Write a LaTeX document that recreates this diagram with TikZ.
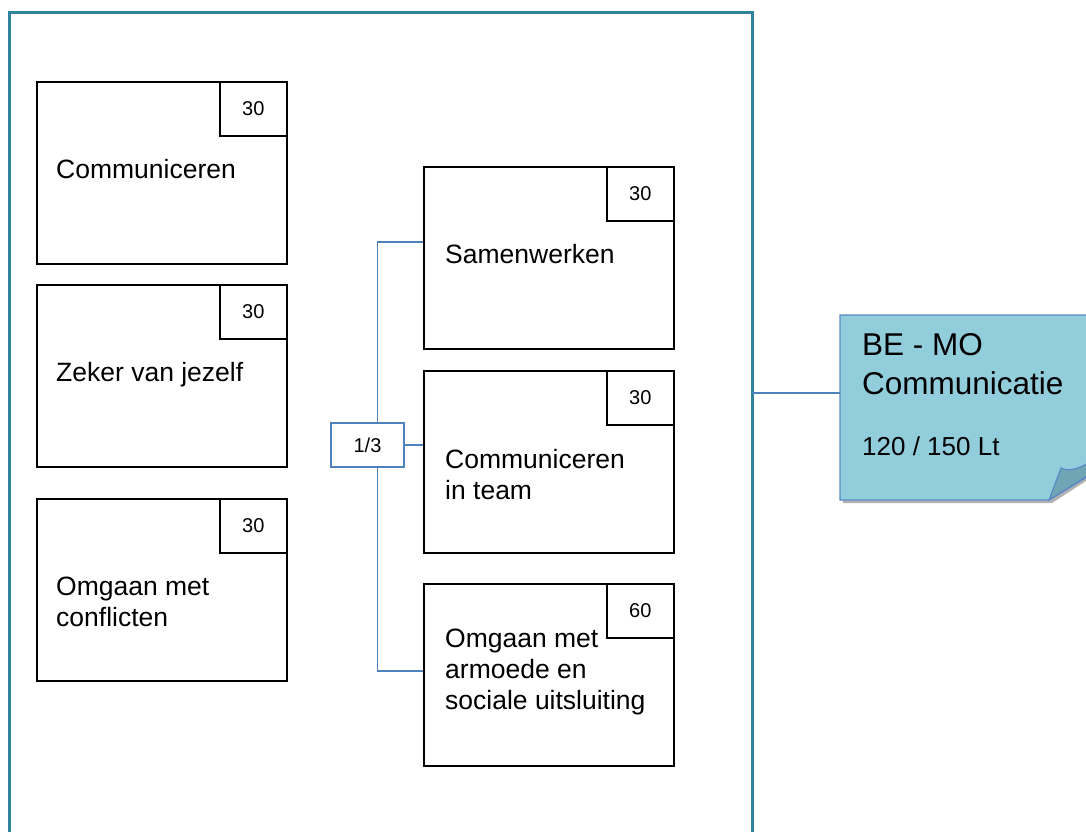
\documentclass[tikz,border=0pt]{standalone}
\usepackage{fontspec}
\setmainfont{Liberation Sans}
\definecolor{frameteal}{HTML}{31849B}
\definecolor{linkblue}{HTML}{4F81BD}
\definecolor{notefill}{HTML}{92CDDC}
\definecolor{foldfill}{HTML}{6FA5B5}
\definecolor{noteborder}{HTML}{5A8AC6}
\begin{document}
\begin{tikzpicture}[x=1pt,y=-1pt,
  card/.style={draw=black, line width=1.5pt, minimum width=250pt, minimum height=182pt, inner sep=0, anchor=north west},
  numbox/.style={draw=black, line width=1.5pt, minimum width=67pt, minimum height=54pt, anchor=north east, inner sep=0, font=\fontsize{20}{24}\selectfont},
  lbl/.style={anchor=west, align=left, inner sep=0, font=\fontsize{26.5}{31}\selectfont},
  link/.style={draw=linkblue, line width=1.6pt}]
\useasboundingbox (0,0) rectangle (1086,831);
% frame
\draw[frameteal, line width=3pt] (9,840) -- (9,12) -- (752,12) -- (752,840);
\coordinate (fr) at (752,393);
% left column
\node[card] (c1) at (36,81) {};
\node[numbox] (c1n) at (c1.north east) {30};
\node[lbl] (c1t) at (56,169) {Communiceren};
\node[card] (c2) at (36,284) {};
\node[numbox] (c2n) at (c2.north east) {30};
\node[lbl] (c2t) at (56,375) {Zeker van jezelf};
\node[card] (c3) at (36,498) {};
\node[numbox] (c3n) at (c3.north east) {30};
\node[lbl] (c3t) at (56,602) {Omgaan met\\conflicten};
% right column
\node[card] (r1) at (423,166) {};
\node[numbox] (r1n) at (r1.north east) {30};
\node[lbl] (r1t) at (445,254) {Samenwerken};
\node[card] (r2) at (423,370) {};
\node[numbox] (r2n) at (r2.north east) {30};
\node[lbl] (r2t) at (445,474.5) {Communiceren\\in team};
\node[card] (r3) at (423,583) {};
\node[numbox] (r3n) at (r3.north east) {60};
\node[lbl] (r3t) at (445,672) {Omgaan met\\armoede en\\sociale uitsluiting};
% 1/3 box
\node[draw=linkblue, line width=1.2pt, minimum width=73pt, minimum height=44pt, inner sep=0, font=\fontsize{20}{24}\selectfont, fill=white] (n13) at (367.5,445) {1/3};
\draw[link] ([xshift=10pt]n13.north) |- ([yshift=16pt]r1.west);
\draw[link] ([xshift=10pt]n13.south) |- ([yshift=4pt]r3.west);
\draw[link] (n13.east) -- (n13.east -| r2.west);
% note
\node[minimum width=260pt, minimum height=185pt, anchor=north west, inner sep=0] (note) at (840,315) {};
\fill[black!30] (843,318) -- (1100,318) -- (1100,472) -- (1052,503) -- (843,503) -- cycle;
\filldraw[fill=notefill, draw=noteborder, line width=1.2pt] (840,315) -- (1100,315) -- (1100,469) -- (1049,500) -- (840,500) -- cycle;
\filldraw[fill=foldfill, draw=noteborder, line width=1.2pt] (1049,500) -- (1061,468) .. controls (1068,472) and (1079,469) .. (1092,461) -- (1092,473) -- cycle;
\draw[link] (fr) -- (fr -| note.west);
\node[anchor=west, inner sep=0, font=\fontsize{31.5}{38}\selectfont] (nt1) at (862,345) {BE - MO};
\node[anchor=west, inner sep=0, font=\fontsize{31.5}{38}\selectfont] (nt2) at (862,383) {Communicatie};
\node[anchor=west, inner sep=0, font=\fontsize{26}{31}\selectfont] (nt3) at (862,446) {120 / 150 Lt};
\end{tikzpicture}
\end{document}
